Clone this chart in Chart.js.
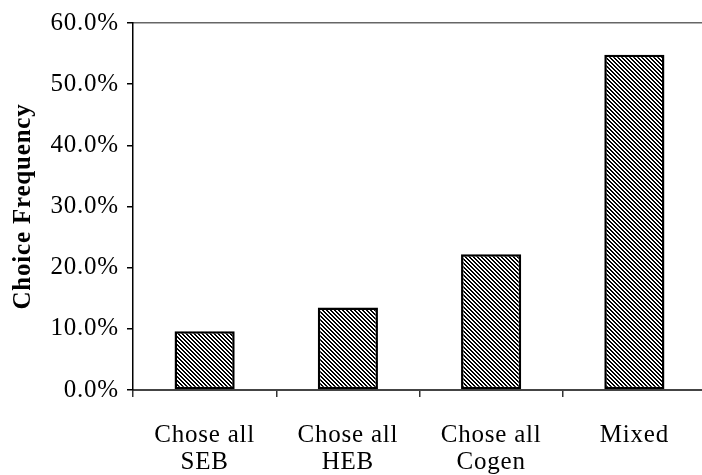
<!DOCTYPE html>
<html>
<head>
<meta charset="utf-8">
<script src="https://cdn.jsdelivr.net/npm/chart.js@4/dist/chart.umd.min.js"></script>
<style>
  html, body { margin: 0; padding: 0; background: #fff; overflow: hidden; }
  #wrap { width: 710px; height: 475px; }
</style>
</head>
<body>
<div id="wrap"><canvas id="chart" width="710" height="475"></canvas></div>
<script>
// Share of respondents by choice pattern (percent)
const categories = [['Chose all', 'SEB'], ['Chose all', 'HEB'], ['Chose all', 'Cogen'], ['Mixed']];
const choiceFrequency = [9.6, 13.5, 22.2, 54.8];
const yTicks = [0, 10, 20, 30, 40, 50, 60];

// Diagonal hatch fill ("\\\\" stripes, black on white)
function hatchPattern() {
  const c = document.createElement('canvas');
  c.width = 4; c.height = 4;
  const g = c.getContext('2d');
  g.fillStyle = '#fff';
  g.fillRect(0, 0, 4, 4);
  g.fillStyle = '#000';
  for (let y = 0; y < 4; y++) {
    for (let x = 0; x < 4; x++) {
      if (((x - y) % 4 + 4) % 4 < 2) g.fillRect(x, y, 1, 1);
    }
  }
  return g.createPattern(c, 'repeat');
}

// Slightly wider lettering for all chart text
const wideText = {
  id: 'wideText',
  beforeDraw(chart) { chart.ctx.letterSpacing = '0.8px'; }
};

const serif = '"Liberation Serif", "Times New Roman", serif';

new Chart(document.getElementById('chart'), {
  type: 'bar',
  data: {
    labels: categories,
    datasets: [{
      data: choiceFrequency,
      backgroundColor: hatchPattern(),
      borderColor: '#000',
      borderWidth: 2.5,
      borderSkipped: false,
      barPercentage: 0.42,
      categoryPercentage: 1.0
    }]
  },
  plugins: [wideText],
  options: {
    responsive: false,
    animation: false,
    layout: { padding: { left: 0, right: 4, top: 22, bottom: 0 } },
    plugins: {
      legend: { display: false },
      tooltip: { enabled: false }
    },
    scales: {
      x: {
        type: 'category',
        position: 'bottom',
        grid: {
          offset: true,
          drawOnChartArea: false,
          drawTicks: true,
          tickLength: 7,
          color: '#333',
          lineWidth: 1.5
        },
        border: { display: true, color: '#444', width: 2 },
        ticks: {
          color: '#000',
          padding: 25,
          maxRotation: 0,
          autoSkip: false,
          font: { family: serif, size: 25, lineHeight: 1.08 }
        },
        afterFit: s => { s.height = 85; }
      },
      xTop: {
        type: 'category',
        position: 'top',
        grid: { display: false },
        ticks: { display: false },
        border: { display: true, color: '#666', width: 1.5 },
        afterFit: s => { s.height = 0; }
      },
      y: {
        min: 0,
        max: 60,
        afterBuildTicks: s => { s.ticks = yTicks.map(v => ({ value: v })); },
        grid: {
          drawOnChartArea: false,
          drawTicks: true,
          tickLength: 6,
          color: '#000',
          lineWidth: 1.5
        },
        border: { display: true, color: '#000', width: 1.5 },
        ticks: {
          color: '#000',
          padding: 8,
          font: { family: serif, size: 25 },
          callback: v => v.toFixed(1) + '%'
        },
        title: {
          display: true,
          text: 'Choice Frequency',
          color: '#000',
          padding: { top: 9, bottom: 0 },
          font: { family: serif, size: 25, weight: 'bold' }
        },
        afterFit: s => { s.width = 133; }
      }
    }
  }
});
</script>
</body>
</html>
